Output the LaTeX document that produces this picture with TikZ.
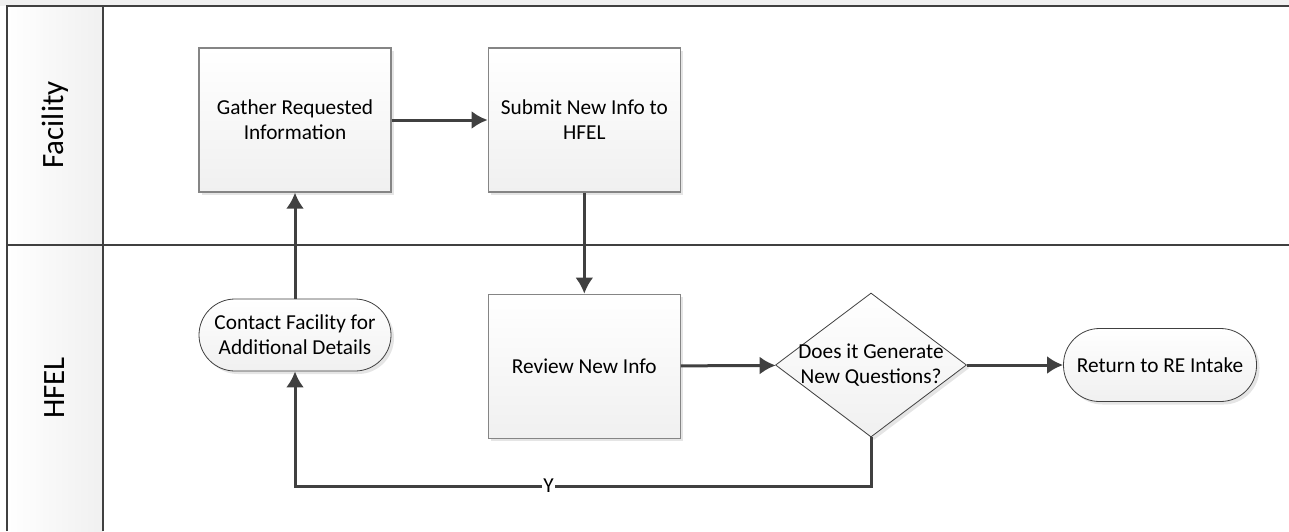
\documentclass[tikz,border=0pt]{standalone}
\usepackage{fontspec}
\setmainfont{Carlito}
\usetikzlibrary{positioning, arrows.meta, shapes.geometric, shadows}
\definecolor{linegray}{HTML}{404040}
\definecolor{boxgray}{HTML}{858585}
\definecolor{fadegray}{HTML}{F0F0F0}
\definecolor{bandgray}{HTML}{F0F0F0}
\tikzset{
  % task boxes
  proc/.style={
    draw=boxgray, line width=1.3pt, top color=white, bottom color=fadegray,
    minimum width=192pt, minimum height=144pt, inner sep=2pt, align=center,
    font=\fontsize{21.3}{25}\selectfont,
    drop shadow={shadow xshift=3pt, shadow yshift=-3pt, fill=black!10, opacity=1}
  },
  term/.style={
    proc, draw=linegray, line width=0.8pt, rounded corners=36pt,
    minimum height=72pt
  },
  decide/.style={
    diamond, draw=linegray, line width=0.8pt, top color=white, bottom color=fadegray,
    minimum width=191pt, minimum height=144pt, inner sep=0pt,
    drop shadow={shadow xshift=3pt, shadow yshift=-3pt, fill=black!10, opacity=1}
  },
  lanetitle/.style={rotate=90, font=\fontsize{31}{37}\selectfont},
  lane/.style={line width=2pt, draw=linegray},
  flow/.style={-{Latex[length=16pt,width=18pt]}, line width=3pt, draw=linegray},
}

\begin{document}
\begin{tikzpicture}[x=1pt, y=-1pt]
  \useasboundingbox (0,0) rectangle (1289,531);

  % pool frame
  \fill[bandgray] (0,0) rectangle (1289,6);
  \shade[left color=white, right color=fadegray] (7,6) rectangle (103,531);
  \draw[lane] (7,531) -- (7,6) -- (1289,6);
  \draw[lane] (103,6) -- (103,531);
  \draw[lane] (7,245) -- (1289,245);

  \node[lanetitle] (facility) at (55,125) {Facility};
  \node[lanetitle] (hfel) at (55,388) {HFEL};

  % steps
  \node[proc] (gather) at (295,120) {Gather Requested\\Information};
  \node[proc, right=96pt of gather] (submit) {Submit New Info to\\HFEL};
  \node[proc, below=101pt of submit] (review) {Review New Info};
  \node[term] (contact) at (295,335) {Contact Facility for\\Additional Details};
  \node[decide, label={[align=center, font=\fontsize{21.3}{25}\selectfont]center:Does it Generate\\New Questions?}]
    (newq) at (871,365) {};
  \node[term, minimum width=193pt, minimum height=73pt] (intake) at (1160,365) {Return to RE Intake};
  \coordinate (ybend) at (871,486);

  % connectors
  \draw[flow] (gather) -- (submit);
  \draw[flow] (submit) -- (review);
  \draw[flow] (review) -- (newq);
  \draw[flow] (newq) -- (intake);
  \draw[flow] (contact) -- (gather);
  \draw[flow] (newq.south) -- (ybend) -| node[pos=0.28, fill=white, inner sep=1pt,
    font=\fontsize{21.3}{25}\selectfont] {Y} (contact.south);
\end{tikzpicture}
\end{document}
